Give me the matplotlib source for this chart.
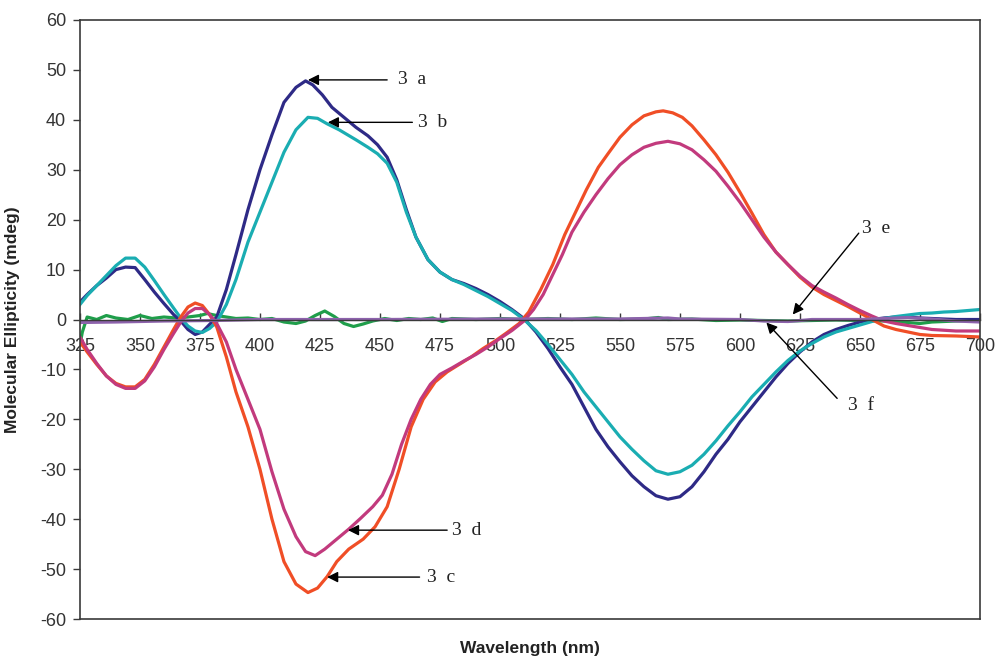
"""CD spectra of compounds 3a-3f (molecular ellipticity vs wavelength)."""

import matplotlib
matplotlib.use("Agg")
import matplotlib.pyplot as plt  # noqa: E402

# values (nm, mdeg)
wl_a = [325, 328, 332, 336, 340, 344, 348, 352, 356, 360, 364, 367, 370, 373, 376, 379, 382,
        386, 390, 395, 400, 405, 410, 415, 419, 422, 426, 430, 435, 440, 445, 449, 453, 457,
        461, 465, 470, 475, 480, 485, 490, 495, 500, 505, 510, 515, 520, 525, 530, 535, 540,
        545, 550, 555, 560, 565, 570, 575, 580, 585, 590, 595, 600, 605, 610, 615, 620, 625,
        630, 635, 640, 645, 650, 655, 660, 665, 670, 675, 680, 690, 700]
cd_a = [3.5, 5, 6.8, 8.3, 10, 10.5, 10.4, 8, 5.5, 3.2, 1, -0.3, -2, -3, -2.5, -1, 0.5,
        6, 13, 22, 30, 37, 43.5, 46.5, 47.8, 47, 45, 42.5, 40.5, 38.5, 36.8, 35, 32.5, 28,
        22, 16.5, 12, 9.5, 8, 7.2, 6.2, 5, 3.6, 2, 0.2, -2.5, -5.8, -9.5, -13, -17.5, -22,
        -25.5, -28.5, -31.3, -33.5, -35.3, -36, -35.5, -33.5, -30.5, -27, -24, -20.5, -17.5,
        -14.5, -11.5, -8.8, -6.5, -4.5, -3, -2, -1.2, -0.5, 0, 0.3, 0.5, 0.5, 0.3, 0.2, 0, 0]

wl_b = [325, 328, 332, 336, 340, 344, 348, 352, 356, 360, 364, 367, 370, 373, 376, 379, 382,
        386, 390, 395, 400, 405, 410, 415, 420, 424, 428, 433, 440, 445, 449, 453, 457, 461,
        465, 470, 475, 480, 485, 490, 495, 500, 505, 510, 515, 520, 525, 530, 535, 540, 545,
        550, 555, 560, 565, 570, 575, 580, 585, 590, 595, 600, 605, 610, 615, 620, 625, 630,
        635, 640, 645, 650, 655, 660, 665, 670, 675, 680, 685, 690, 695, 700]
cd_b = [3, 4.8, 6.8, 8.8, 10.8, 12.3, 12.3, 10.5, 7.8, 5, 2.3, 0.3, -1.3, -2.3, -2.6, -1.8, -0.5,
        3, 8, 15.5, 21.5, 27.5, 33.5, 38, 40.5, 40.3, 39.2, 38, 36, 34.5, 33.2, 31.3, 27.5,
        21.5, 16.5, 12, 9.5, 8, 7, 5.8, 4.6, 3.2, 1.8, 0, -2.2, -5, -8, -11, -14.5, -17.5,
        -20.5, -23.5, -26, -28.3, -30.3, -31, -30.5, -29.2, -27, -24.3, -21.3, -18.5, -15.5,
        -13, -10.5, -8.2, -6.3, -4.8, -3.5, -2.5, -1.8, -1.1, -0.4, 0.2, 0.6, 0.9, 1.2, 1.3,
        1.5, 1.6, 1.8, 2]

wl_c = [325, 328, 332, 336, 340, 344, 348, 352, 356, 360, 364, 367, 370, 373, 376, 379, 382,
        386, 390, 395, 400, 405, 410, 415, 420, 424, 428, 432, 437, 443, 448, 453, 458, 463,
        468, 473, 478, 483, 488, 493, 498, 503, 508, 512, 517, 522, 527, 531, 536, 541, 545,
        550, 555, 560, 565, 568, 572, 576, 580, 585, 590, 595, 600, 605, 610, 615, 620, 625,
        630, 635, 640, 645, 650, 655, 660, 665, 670, 675, 680, 690, 700]
cd_c = [-4.5, -6.5, -9, -11.3, -12.8, -13.5, -13.5, -12, -9, -5.5, -2, 0.5, 2.5, 3.3, 2.8, 1,
        -1.5, -7.5, -14.5, -21.5, -30, -40, -48.5, -53, -54.7, -53.8, -51.5, -48.5, -46, -44,
        -41.5, -37.5, -30, -21.5, -16, -12.5, -10.5, -9, -7.5, -5.8, -4.3, -2.6, -0.8, 1.5, 6,
        11, 17, 21, 26, 30.5, 33.2, 36.5, 39, 40.8, 41.6, 41.8, 41.4, 40.5, 38.8, 36, 33, 29.5,
        25.5, 21.3, 17, 13.5, 11, 8.5, 6.5, 5, 3.8, 2.6, 1.3, 0, -1.3, -2, -2.5, -3, -3.2,
        -3.3, -3.5]

wl_d = [325, 328, 332, 336, 340, 344, 348, 352, 356, 360, 364, 367, 370, 373, 376, 379, 382,
        386, 390, 395, 400, 405, 410, 415, 419, 423, 427, 432, 437, 442, 447, 451, 455, 459,
        463, 467, 471, 475, 480, 485, 490, 495, 500, 505, 510, 514, 518, 522, 526, 530, 535,
        540, 545, 550, 555, 560, 565, 570, 575, 580, 585, 590, 595, 600, 605, 610, 615, 620,
        625, 630, 635, 640, 645, 650, 655, 660, 665, 670, 675, 680, 690, 700]
cd_d = [-3.5, -6, -8.8, -11.3, -13, -13.8, -13.8, -12.3, -9.5, -6, -2.8, -0.5, 1.3, 2.2, 2.2,
        1, -0.8, -4.5, -10, -16, -22, -30.5, -38, -43.5, -46.5, -47.3, -46, -44, -42, -39.8,
        -37.5, -35.2, -31, -25, -20, -16, -13, -11, -9.7, -8.3, -7, -5.5, -3.8, -2.2, -0.3,
        2, 5, 9, 13, 17.5, 21.5, 25, 28.2, 31, 33, 34.5, 35.3, 35.7, 35.2, 34, 32, 29.7,
        26.7, 23.5, 20, 16.5, 13.5, 11, 8.7, 6.8, 5.5, 4.3, 3, 1.8, 0.7, -0.3, -0.8, -1.2,
        -1.6, -2, -2.3, -2.3]

wl_e = [325, 326, 328, 332, 336, 340, 345, 350, 355, 360, 365, 370, 375, 378, 382, 386, 390,
        395, 400, 405, 410, 415, 419, 423, 427, 431, 435, 439, 443, 447, 452, 457, 462, 467,
        472, 476, 480, 490, 500, 510, 520, 530, 540, 550, 560, 566, 570, 580, 590, 600, 610,
        620, 630, 640, 650, 660, 670, 675, 680, 690, 700]
cd_e = [-5, -2.5, 0.5, 0, 0.8, 0.3, 0, 0.8, 0.2, 0.5, 0.3, 0.5, 0.8, 1.2, 0.8, 0.5, 0.2,
        0.3, 0, 0.2, -0.5, -0.8, -0.3, 0.8, 1.7, 0.6, -0.8, -1.4, -0.9, -0.3, 0.2, -0.2, 0.2,
        0, 0.3, -0.4, 0.2, 0, 0.2, 0, 0.2, 0, 0.3, 0, 0.1, 0.4, 0, 0.1, -0.2, -0.1, -0.2,
        -0.3, -0.2, -0.1, -0.2, -0.3, -0.6, -0.8, -0.5, -0.3, -0.2]

wl_f = [325, 340, 360, 380, 400, 450, 500, 550, 570, 575, 600, 610, 620, 630, 650, 660, 670,
        680, 690, 700]
cd_f = [-0.6, -0.5, -0.3, -0.2, 0, 0, 0.1, 0.1, 0.3, 0.1, 0, -0.3, -0.4, 0, 0, 0.2, 0.4,
        0.1, -0.3, -0.5]

SERIES = [  # (x, y, colour) in drawing order
    (wl_e, cd_e, "#1f9e4a"),
    (wl_a, cd_a, "#2e2a86"),
    (wl_b, cd_b, "#1aadb2"),
    (wl_c, cd_c, "#f04e26"),
    (wl_d, cd_d, "#c23a7d"),
    (wl_f, cd_f, "#8d62ac"),
]

# (label, text position, arrow head)
LABELS = [
    ("3  a", (457.5, 48), (420, 48)),
    ("3  b", (466, 39.5), (428.3, 39.5)),
    ("3  d", (480, -42.2), (436.7, -42.2)),
    ("3  c", (469.5, -51.6), (428, -51.6)),
    ("3  e", (651, 18.3), (622, 1)),
    ("3  f", (645, -17.2), (611, -0.6)),
]
TAILS = [(453, 48), (463.5, 39.5), (478, -42.2), (466.5, -51.6), (649.5, 17.3), (640.5, -15.8)]

plt.rcParams.update({"font.family": ["Liberation Sans", "DejaVu Sans"],
                     "axes.unicode_minus": False})
GREY = "#3a3a3a"

fig = plt.figure(figsize=(9.97, 6.6), dpi=100)
ax = fig.add_axes([0.0802, 0.0621, 0.9027, 0.9076])

for x, y, c in SERIES:
    ax.plot(x, y, color=c, lw=2.3, solid_joinstyle="round")

for (txt, tpos, head), tail in zip(LABELS, TAILS):
    ax.annotate("", xy=head, xytext=tail,
                arrowprops=dict(arrowstyle="-|>", color="black", lw=1.0,
                                mutation_scale=16, shrinkA=0, shrinkB=0))
    ax.text(tpos[0], tpos[1], txt, family="Liberation Serif", fontsize=14,
            ha="left", va="center", color="#222222")

ax.set_xlim(325, 700)
ax.set_ylim(-60, 60)
ax.set_xticks(range(325, 701, 25))
ax.set_yticks(range(-60, 61, 10))

ax.spines["bottom"].set_position(("data", 0))
for s in ax.spines.values():
    s.set_color(GREY)
    s.set_linewidth(1.2)
ax.spines["bottom"].set_linewidth(1.0)
# frame line at the bottom of the plot box
ax.plot([0, 1], [0, 0], transform=ax.transAxes, color=GREY, lw=1.2, clip_on=False)

ax.tick_params(axis="x", direction="in", length=5, width=1, pad=13, labelsize=13,
               colors=GREY, labelcolor="#333333")
ax.tick_params(axis="y", direction="out", length=5, width=1, pad=5, labelsize=13,
               colors=GREY, labelcolor="#333333")

ax.set_xlabel("Wavelength (nm)", fontsize=12.5, fontweight="bold", color="#222222")
ax.set_ylabel("Molecular Ellipticity (mdeg)", fontsize=12.5, fontweight="bold", color="#222222")
ax.xaxis.set_label_coords(0.5, -0.036)
ax.yaxis.set_label_coords(-0.067, 0.5)

fig.savefig("out.png", dpi=100)
